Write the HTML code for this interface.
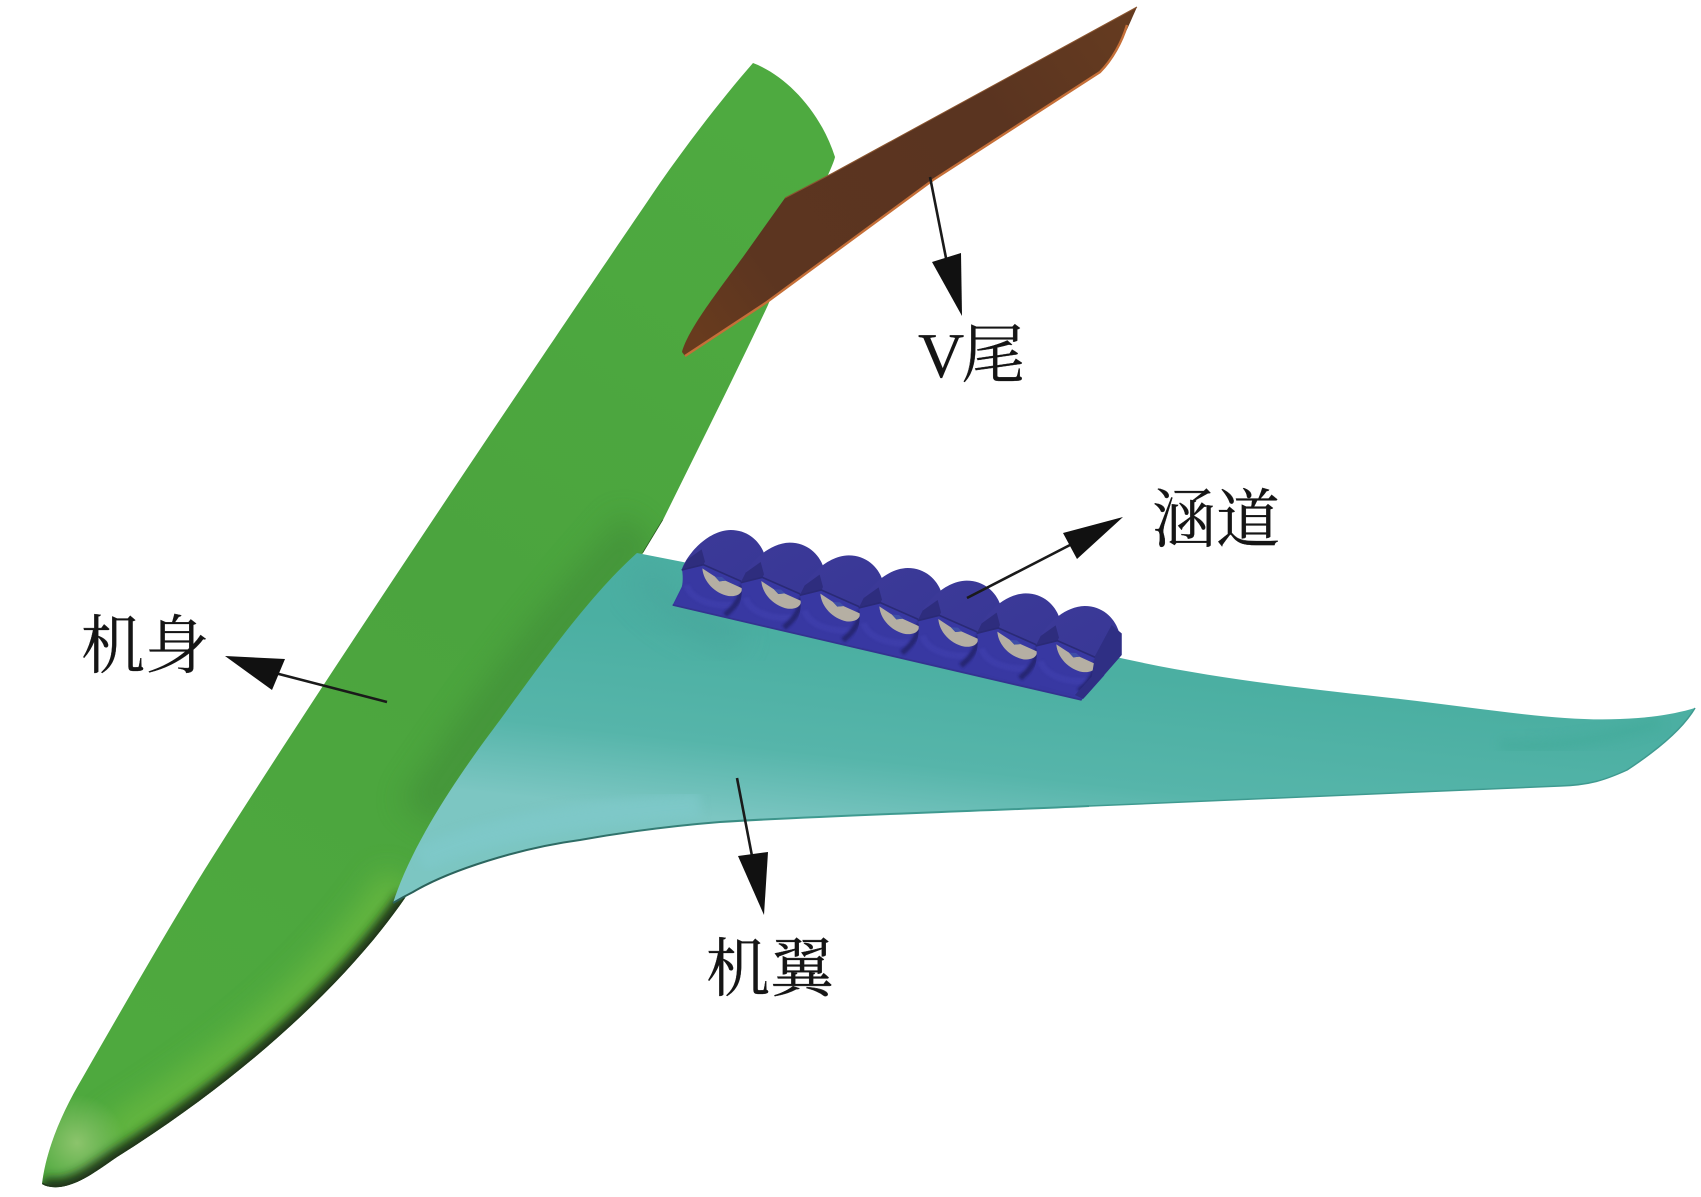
<!DOCTYPE html>
<html><head><meta charset="utf-8"><title>diagram</title>
<style>html,body{margin:0;padding:0;background:#fff}svg{display:block}
text{font-family:"Liberation Serif","Noto Serif CJK SC",serif;fill:#151515;font-size:64px;stroke:#151515;stroke-width:.3}</style></head>
<body>
<svg width="1701" height="1197" viewBox="0 0 1701 1197" xmlns="http://www.w3.org/2000/svg">
<defs>
<linearGradient id="fg" gradientUnits="userSpaceOnUse" x1="760" y1="100" x2="150" y2="1050">
<stop offset="0" stop-color="#4eaa40"/><stop offset=".5" stop-color="#4ba43e"/><stop offset="1" stop-color="#4ea93e"/>
</linearGradient>
<linearGradient id="wg" gradientUnits="userSpaceOnUse" x1="800" y1="640" x2="780" y2="825">
<stop offset="0" stop-color="#4bafa2"/><stop offset=".6" stop-color="#56b5aa"/><stop offset="1" stop-color="#7cc6c2"/>
</linearGradient>
<linearGradient id="tg" gradientUnits="userSpaceOnUse" x1="700" y1="340" x2="1130" y2="30">
<stop offset="0" stop-color="#683b1e"/><stop offset=".18" stop-color="#5c3520"/><stop offset=".7" stop-color="#5a3420"/><stop offset="1" stop-color="#653b20"/>
</linearGradient>
<linearGradient id="edge" gradientUnits="userSpaceOnUse" x1="393" y1="0" x2="800" y2="0">
<stop offset="0" stop-color="#2a5f58"/><stop offset=".5" stop-color="#2f6f68"/><stop offset="1" stop-color="#3f9a90"/>
</linearGradient>
<radialGradient id="nose" gradientUnits="userSpaceOnUse" cx="77" cy="1143" r="48">
<stop offset="0" stop-color="#8cc46c"/><stop offset="1" stop-color="#8cc46c" stop-opacity="0"/>
</radialGradient>
<linearGradient id="dome" x1="0" y1="0" x2="1" y2="1">
<stop offset="0" stop-color="#3c3a98"/><stop offset="1" stop-color="#383796"/>
</linearGradient>
<filter id="b6" x="-20%" y="-20%" width="140%" height="140%"><feGaussianBlur stdDeviation="5"/></filter>
<filter id="b14" x="-30%" y="-30%" width="160%" height="160%"><feGaussianBlur stdDeviation="14"/></filter>
<filter id="b2" x="-30%" y="-30%" width="160%" height="160%"><feGaussianBlur stdDeviation="4"/></filter>
<clipPath id="fc"><path d="M753,63 C785,75 820,110 835,157 C832,172 790,250 768,305 C740,365 700,445 663,520 L643,553 L405,898 C345,985 240,1080 117,1157 C95,1172 80,1184 60,1187 Q48,1188 42,1184 C46,1150 62,1112 83,1077 C130,995 180,908 217,850 C350,640 560,330 660,183 C690,140 725,95 753,63 Z"/></clipPath>
<clipPath id="wc"><path d="M637,553 L683,562 L1125,659 C1220,680 1320,690 1400,699 C1480,708 1560,722 1620,719 C1650,718 1675,714 1695,708 C1685,725 1665,745 1627,770 C1605,780 1590,785 1560,786 C1480,790 1280,798 1089,806 C960,812 830,815 720,822 C670,826 625,832 580,840 C520,848 450,870 413,892 Q403,897 393,903 C415,835 470,760 500,720 C540,665 590,595 637,553 Z"/></clipPath>
<clipPath id="dc"><polygon points="0,0 1450,0 1388,435 1265,572 36,286 0,286"/></clipPath>
<g id="hump">
<path d="M38,287 C55,262 75,235 66,178 L130,140 L262,200 L275,300 L250,345 Z" fill="#3838a2"/>
<path d="M80,225 C90,265 150,290 220,285" fill="none" stroke="#4444b4" stroke-width="20" opacity=".45" filter="url(#b2)"/>
<path d="M247,225 C245,265 225,290 195,315" fill="none" stroke="#222268" stroke-width="16" opacity=".8" filter="url(#b2)"/>
<path d="M65,180 C80,135 140,62 212,60 C265,60 300,95 313,132 C322,160 298,195 262,222 L245,215 L130,165 Z" fill="url(#dome)"/>
<path d="M65,180 L80,150 L125,118 L135,155 L130,165 Z" fill="#2c2b78" opacity=".8"/>
<path d="M65,180 L130,164 L248,216" fill="none" stroke="#2a2a76" stroke-width="5"/>
<path d="M127,175 L165,200 L178,214 L196,212 L247,235 C245,255 225,260 205,258 C165,250 130,215 127,175 Z" fill="#b5afa3"/>
<path d="M165,200 L178,214 L198,212 L186,201 Z" fill="#3f4fa8"/>
</g>
</defs>
<rect width="1701" height="1197" fill="#fff"/>

<!-- fuselage -->
<path d="M753,63 C785,75 820,110 835,157 C832,172 790,250 768,305 C740,365 700,445 663,520 L643,553 L405,898 C345,985 240,1080 117,1157 C95,1172 80,1184 60,1187 Q48,1188 42,1184 C46,1150 62,1112 83,1077 C130,995 180,908 217,850 C350,640 560,330 660,183 C690,140 725,95 753,63 Z" fill="url(#fg)"/>
<g clip-path="url(#fc)">
<path d="M420,815 C470,740 540,640 640,530" fill="none" stroke="#3f8a38" stroke-width="46" opacity=".55" filter="url(#b14)"/>
<path d="M400,880 C330,985 240,1060 110,1140" fill="none" stroke="#68b840" stroke-width="40" opacity=".85" filter="url(#b14)"/>
<rect x="20" y="1080" width="120" height="117" fill="url(#nose)"/>
<path d="M405,898 C345,985 240,1080 117,1157 C95,1172 80,1184 60,1187 Q48,1188 42,1184" fill="none" stroke="#1c3316" stroke-width="17" filter="url(#b6)"/>
<path d="M405,898 C345,985 240,1080 117,1157 C95,1172 80,1184 60,1187 Q48,1188 42,1184" fill="none" stroke="#22381c" stroke-width="3"/>
<path d="M663,520 L643,553" stroke="#2d5a22" stroke-width="1.5" fill="none"/>
</g>

<!-- wing -->
<path d="M637,553 L683,562 L1125,659 C1220,680 1320,690 1400,699 C1480,708 1560,722 1620,719 C1650,718 1675,714 1695,708 C1685,725 1665,745 1627,770 C1605,780 1590,785 1560,786 C1480,790 1280,798 1089,806 C960,812 830,815 720,822 C670,826 625,832 580,840 C520,848 450,870 413,892 Q403,897 393,903 C415,835 470,760 500,720 C540,665 590,595 637,553 Z" fill="url(#wg)"/>
<g clip-path="url(#wc)">
<path d="M420,860 C470,835 560,815 700,805" fill="none" stroke="#7fc9ca" stroke-width="26" opacity=".7" filter="url(#b6)"/>
<path d="M640,570 C660,600 690,620 740,640" fill="none" stroke="#4aa69c" stroke-width="34" opacity=".6" filter="url(#b14)"/>
<path d="M1500,745 C1560,750 1620,735 1660,722" fill="none" stroke="#45ab9b" stroke-width="12" opacity=".7" filter="url(#b6)"/>
</g>
<path d="M393,903 Q403,897 413,892 C450,870 520,848 580,840 C625,832 670,826 720,822 C830,815 960,812 1089,806" fill="none" stroke="url(#edge)" stroke-width="2"/>
<path d="M1089,806 C1280,798 1480,790 1560,786 C1590,785 1605,780 1627,770 C1665,745 1685,725 1695,708" fill="none" stroke="#3f9a90" stroke-width="1.5"/>

<!-- ducts -->
<g transform="translate(660,510) scale(.33333)">
<g clip-path="url(#dc)">
<path d="M38,285 L1265,570 L1385,435 L1385,370 L1307,446 L100,190 L68,225 Z" fill="#3737a0"/>
<use href="#hump"/>
<use href="#hump" transform="translate(177,38)"/>
<use href="#hump" transform="translate(354,76)"/>
<use href="#hump" transform="translate(531,114)"/>
<use href="#hump" transform="translate(708,152)"/>
<use href="#hump" transform="translate(885,190)"/>
<use href="#hump" transform="translate(1062,228)"/>
<path d="M1305,438 L1355,345 L1385,370 L1385,435 L1270,567 L1245,555 L1295,500 Z" fill="#2f2f84"/>
</g>
<path d="M38,285 L1265,570" stroke="#33338f" stroke-width="5" fill="none"/>
</g>

<!-- tail -->
<path d="M1137,7 C1130,22 1120,50 1100,72 L933,180 L767,302 L685,356 L682,352 C688,330 715,295 743,257 L785,198 L833,173 Z" fill="url(#tg)"/>
<path d="M1127,25 C1122,42 1112,60 1100,72 L933,180 L767,302 L685,356" fill="none" stroke="#c56f38" stroke-width="2.4"/>
<path d="M1137,7 L833,173 L785,198" fill="none" stroke="#8a5530" stroke-width="1"/>

<!-- arrows -->
<g stroke="#1a1a1a" stroke-width="2.6" fill="none">
<line x1="930" y1="177" x2="946" y2="258"/>
<line x1="967" y1="598" x2="1070" y2="545"/>
<line x1="387" y1="702" x2="275" y2="673"/>
<line x1="737" y1="778" x2="752" y2="856"/>
</g>
<g fill="#111">
<polygon points="932,262 961,253 962,316"/>
<polygon points="1123,517 1063,533 1077,559"/>
<polygon points="225,656 285,659 272,690"/>
<polygon points="738,856 768,852 764,915"/>
</g>

<!-- labels -->
<text x="918" y="377" letter-spacing="-3">V尾</text>
<text x="1152" y="542">涵道</text>
<text x="81" y="668">机身</text>
<text x="706" y="991">机翼</text>
</svg>
</body></html>
